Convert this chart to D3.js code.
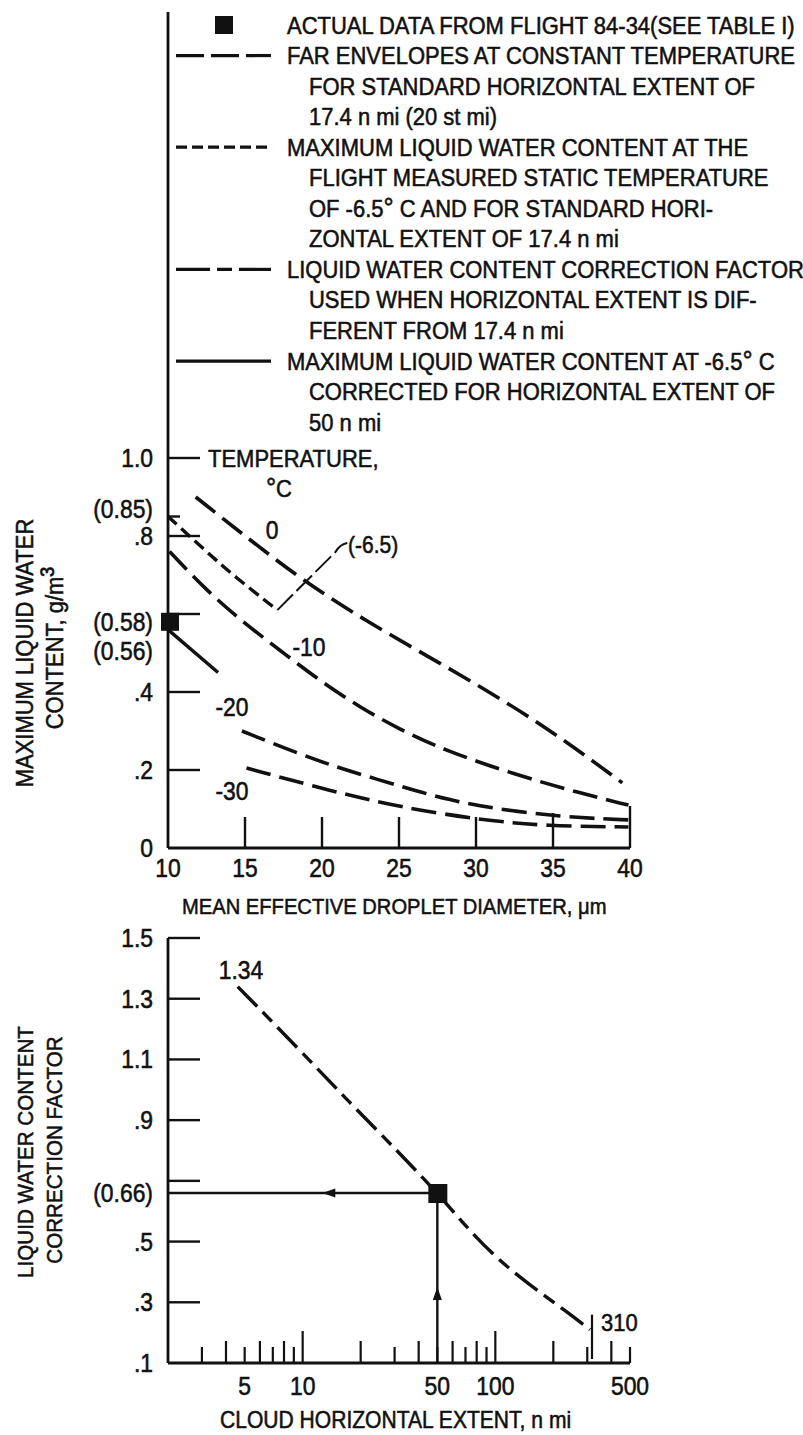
<!DOCTYPE html>
<html><head><meta charset="utf-8">
<script src="https://cdn.jsdelivr.net/npm/d3@7"></script>
<style>
html,body{margin:0;padding:0;background:#fff;}
svg{display:block;}
text{font-family:"Liberation Sans",Arial,sans-serif;fill:#111;stroke:#111;stroke-width:0.55px;}
</style></head><body>
<svg id="chart" width="803" height="1435"></svg>
<script>
// ---------------- DATA ----------------
// Upper chart: maximum liquid water content vs mean effective droplet diameter
const diameterTicks = [15, 20, 25, 30, 35, 40];
const diameterLabels = [10, 15, 20, 25, 30, 35, 40];
const lwcTicks = [0.2, 0.4, 0.6, 0.8, 0.85, 1.0];
const lwcLabelValues = [0, 0.2, 0.4, 0.8, 0.85, 1.0, 0.58, 0.56];
const lwcLabelTexts = ["0", ".2", ".4", ".8", "(0.85)", "1.0", "(0.58)", "(0.56)"];
const envelopeTemps = ["0", "-10", "-20", "-30"];
const envelope0 = [[11.8, 0.90], [15, 0.80], [18.6, 0.69], [22.9, 0.58], [29.2, 0.44], [34.6, 0.31], [39.5, 0.167]];
const envelopeM10 = [[10.1, 0.76], [12.5, 0.66], [15, 0.575], [17.5, 0.50], [20, 0.425], [22.5, 0.36], [25, 0.305], [28, 0.25], [32.4, 0.19], [36.8, 0.14], [39.9, 0.11]];
const envelopeM20 = [[14.8, 0.30], [18.6, 0.24], [21.5, 0.20], [25, 0.16], [28.1, 0.123], [32.4, 0.093], [36.8, 0.077], [39.9, 0.072]];
const envelopeM30 = [[15.1, 0.205], [20.7, 0.145], [25, 0.105], [30.3, 0.072], [34.6, 0.056], [39.9, 0.054]];
const measuredMinus6p5 = [[10, 0.85], [12.5, 0.76], [14.2, 0.70], [17.1, 0.61]];
const corrected50nmi = [[10, 0.56], [13.25, 0.45]];
const flightPoint = [10, 0.58];

// Lower chart: correction factor vs cloud horizontal extent
const extentTicks = [3, 4, 5, 6, 7, 8, 9, 10, 20, 30, 40, 50, 60, 70, 80, 90, 100, 200, 300, 400, 500];
const extentLabels = [5, 10, 50, 100, 500];
const factorTicks = [0.3, 0.5, 0.7, 0.9, 1.1, 1.3, 1.5];
const factorLabelValues = [0.1, 0.3, 0.5, 0.66, 0.9, 1.1, 1.3, 1.5];
const factorLabelTexts = [".1", ".3", ".5", "(0.66)", ".9", "1.1", "1.3", "1.5"];
const factorCurve = [[4.6, 1.34], [9.7, 1.13], [17.4, 0.96], [32, 0.79], [50, 0.66], [68, 0.56], [101, 0.445], [156, 0.35], [234, 0.27], [310, 0.21]];
const correctionPoint = [50, 0.66];
const curveEndLabels = ["1.34", "310"];

// Legend
const legendSymbols = ["square", "envelope", "measured", "factor", "corrected"];
const legendTexts = [
  ["ACTUAL DATA FROM FLIGHT 84-34(SEE TABLE I)"],
  ["FAR ENVELOPES AT CONSTANT TEMPERATURE", "FOR STANDARD HORIZONTAL EXTENT OF", "17.4 n mi (20 st mi)"],
  ["MAXIMUM LIQUID WATER CONTENT AT THE", "FLIGHT MEASURED STATIC TEMPERATURE", "OF -6.5° C AND FOR STANDARD HORI-", "ZONTAL EXTENT OF 17.4 n mi"],
  ["LIQUID WATER CONTENT CORRECTION FACTOR", "USED WHEN HORIZONTAL EXTENT IS DIF-", "FERENT FROM 17.4 n mi"],
  ["MAXIMUM LIQUID WATER CONTENT AT -6.5° C", "CORRECTED FOR HORIZONTAL EXTENT OF", "50 n mi"]
];

// ---------------- STYLE ----------------
const INK = "#111";
const FS = 24;
const DASH = {envelope: "25,9", measured: "12,6", factor: "28,8,13,8"};

const svg = d3.select("#chart");
const probe = svg.append("text").attr("font-size", FS).text(legendTexts[0][0]);
const K = Math.max(0.7, Math.min(1.1, 508 / probe.node().getComputedTextLength()));
probe.remove();

function label(sel, x, y, s, o = {}) {
  const size = o.size || FS;
  const t = sel.append("text")
    .attr("transform", `translate(${x},${y})${o.rotate ? ` rotate(${o.rotate})` : ""} scale(${K},1)`)
    .attr("font-size", size)
    .attr("text-anchor", o.anchor || "start");
  s.split(/(°|³)/).forEach(p => {
    if (!p) return;
    if (p === "°") t.append("tspan").attr("font-size", size * 1.15).text("°");
    else if (p === "³") t.append("tspan").attr("font-size", size * 1.35).text("³");
    else t.append("tspan").text(p);
  });
  return t;
}

// ---------------- SCALES ----------------
const xTop = d3.scaleLinear().domain([10, 40]).range([168, 630]);
const yTop = d3.scaleLinear().domain([0, 1]).range([848, 458]);
const xBot = d3.scaleLog().domain([2, 500]).range([168, 630]);
const yBot = d3.scaleLinear().domain([0.1, 1.5]).range([1363, 938]);

const gTop = svg.append("g");
const gBot = svg.append("g");

// ---------------- UPPER CHART ----------------
gTop.append("line").attr("x1", 168).attr("x2", 168).attr("y1", 12).attr("y2", yTop(0))
  .attr("stroke", INK).attr("stroke-width", 2.8);
gTop.append("line").attr("x1", xTop(10)).attr("x2", xTop(40)).attr("y1", yTop(0)).attr("y2", yTop(0))
  .attr("stroke", INK).attr("stroke-width", 2.8);
gTop.selectAll(".yt").data(lwcTicks).join("line")
  .attr("x1", 168).attr("x2", d => d === 0.85 ? 180 : 200)
  .attr("y1", d => yTop(d)).attr("y2", d => yTop(d))
  .attr("stroke", INK).attr("stroke-width", 2.4);
gTop.selectAll(".xt").data(diameterTicks).join("line")
  .attr("x1", d => xTop(d)).attr("x2", d => xTop(d))
  .attr("y1", yTop(0)).attr("y2", d => yTop(0) - (d === 40 ? 42 : d === 35 ? 35 : 31))
  .attr("stroke", INK).attr("stroke-width", 2.4);
const lwcNudge = {"(0.85)": -8, "(0.56)": 21};
lwcLabelValues.forEach((v, i) => {
  const t = lwcLabelTexts[i];
  label(gTop, 153, yTop(v) + 9 + (lwcNudge[t] || 0), t, {anchor: "end", size: 25});
});
diameterLabels.forEach(v => label(gTop, xTop(v), 877, String(v), {anchor: "middle", size: 25}));
label(gTop, 182, 914, "MEAN EFFECTIVE DROPLET DIAMETER, μm", {size: 22});
label(gTop, 33, 653, "MAXIMUM LIQUID WATER", {rotate: -90, anchor: "middle"});
label(gTop, 63, 648, "CONTENT, g/m³", {rotate: -90, anchor: "middle"});

const lineTop = d3.line().x(d => xTop(d[0])).y(d => yTop(d[1])).curve(d3.curveBasis);
[envelope0, envelopeM10, envelopeM20, envelopeM30].forEach(c => {
  gTop.append("path").attr("d", lineTop(c)).attr("fill", "none").attr("stroke", INK)
    .attr("stroke-width", 3.6).attr("stroke-dasharray", DASH.envelope);
});
gTop.append("path").attr("d", lineTop(measuredMinus6p5)).attr("fill", "none").attr("stroke", INK)
  .attr("stroke-width", 3.4).attr("stroke-dasharray", DASH.measured);
gTop.append("path").attr("d", lineTop(corrected50nmi)).attr("fill", "none").attr("stroke", INK)
  .attr("stroke-width", 3.4);
gTop.append("rect").attr("x", xTop(flightPoint[0]) - 7).attr("y", yTop(flightPoint[1]) - 9)
  .attr("width", 18).attr("height", 18).attr("fill", INK);

label(gTop, 208, 467, "TEMPERATURE,");
label(gTop, 266, 497, "°C");
const tempLabelPos = [[272, 539], [309, 656], [232, 716], [232, 800]];
envelopeTemps.forEach((t, i) => label(gTop, tempLabelPos[i][0], tempLabelPos[i][1], t, {anchor: "middle", size: 25}));
const lastM = measuredMinus6p5[measuredMinus6p5.length - 1];
const lx = xTop(lastM[0]), ly = yTop(lastM[1]);
gTop.append("path").attr("d", `M${lx},${ly} L${lx + 58},${ly - 58} Q${lx + 63},${ly - 66} ${lx + 70},${ly - 67}`)
  .attr("fill", "none").attr("stroke", INK).attr("stroke-width", 2).attr("stroke-dasharray", "22,5");
label(gTop, 348, 553, "(-6.5)", {size: 23});

// ---------------- LEGEND ----------------
const rowStep = 30.55;
let row = 0;
legendTexts.forEach((lines, i) => {
  const cy = 25 + row * rowStep;
  const sym = legendSymbols[i];
  if (sym === "square") {
    gTop.append("rect").attr("x", 215).attr("y", cy - 9).attr("width", 18).attr("height", 18).attr("fill", INK);
  } else {
    gTop.append("line").attr("x1", 176).attr("x2", 271).attr("y1", cy).attr("y2", cy)
      .attr("stroke", INK).attr("stroke-width", 3.2)
      .attr("stroke-dasharray", sym === "envelope" ? "28,7" : sym === "measured" ? "11,5" : sym === "factor" ? "34,7,15,7" : null);
  }
  lines.forEach((s, j) => {
    const y = 25 + (row + j) * rowStep + 8.5;
    label(gTop, j === 0 ? 287 : 309, y, s);
  });
  row += lines.length;
});

// ---------------- LOWER CHART ----------------
gBot.append("line").attr("x1", 168).attr("x2", 168).attr("y1", yBot(1.5)).attr("y2", yBot(0.1))
  .attr("stroke", INK).attr("stroke-width", 2.8);
gBot.append("line").attr("x1", xBot(2)).attr("x2", xBot(500)).attr("y1", yBot(0.1)).attr("y2", yBot(0.1))
  .attr("stroke", INK).attr("stroke-width", 2.8);
gBot.selectAll(".yt").data(factorTicks).join("line")
  .attr("x1", 168).attr("x2", 200).attr("y1", d => yBot(d)).attr("y2", d => yBot(d))
  .attr("stroke", INK).attr("stroke-width", 2.4);
function tickLen(v) {
  const m = Math.round(v / Math.pow(10, Math.floor(Math.log10(v) + 1e-9)));
  return m === 1 ? 32 : (m % 2 === 0 ? 22 : 16);
}
gBot.selectAll(".xt").data(extentTicks).join("line")
  .attr("x1", d => xBot(d)).attr("x2", d => xBot(d))
  .attr("y1", yBot(0.1)).attr("y2", d => yBot(0.1) - tickLen(d))
  .attr("stroke", INK).attr("stroke-width", 2.2);
factorLabelValues.forEach((v, i) => label(gBot, 153, yBot(v) + 9, factorLabelTexts[i], {anchor: "end", size: 25}));
extentLabels.forEach(v => label(gBot, xBot(v), 1395, String(v), {anchor: "middle", size: 25}));
label(gBot, 220, 1428, "CLOUD HORIZONTAL EXTENT, n mi", {size: 23});
label(gBot, 33, 1152, "LIQUID WATER CONTENT", {rotate: -90, anchor: "middle", size: 22.5});
label(gBot, 62, 1150, "CORRECTION FACTOR", {rotate: -90, anchor: "middle", size: 22.5});

const lineBot = d3.line().x(d => xBot(d[0])).y(d => yBot(d[1])).curve(d3.curveBasis);
gBot.append("path").attr("d", lineBot(factorCurve)).attr("fill", "none").attr("stroke", INK)
  .attr("stroke-width", 3.4).attr("stroke-dasharray", DASH.factor);

const px = xBot(correctionPoint[0]), py = yBot(correctionPoint[1]);
gBot.append("line").attr("x1", 168).attr("x2", px).attr("y1", py).attr("y2", py)
  .attr("stroke", INK).attr("stroke-width", 2.4);
gBot.append("line").attr("x1", px).attr("x2", px).attr("y1", yBot(0.1)).attr("y2", py)
  .attr("stroke", INK).attr("stroke-width", 2.4);
gBot.append("path").attr("d", `M${px - 115},${py} L${px - 102},${py - 4.5} L${px - 102},${py + 4.5} Z`).attr("fill", INK);
gBot.append("path").attr("d", `M${px},${py + 94} L${px - 4.5},${py + 107} L${px + 4.5},${py + 107} Z`).attr("fill", INK);
gBot.append("rect").attr("x", px - 9).attr("y", py - 9).attr("width", 19).attr("height", 19).attr("fill", INK);

const endPt = factorCurve[factorCurve.length - 1];
gBot.append("line").attr("x1", xBot(endPt[0]) + 2).attr("x2", xBot(endPt[0]) + 2)
  .attr("y1", yBot(endPt[1]) - 15).attr("y2", yBot(0.1) - 4)
  .attr("stroke", INK).attr("stroke-width", 2.2);
label(gBot, xBot(endPt[0]) + 11, yBot(endPt[1]) + 1, curveEndLabels[1], {size: 24});
const startPt = factorCurve[0];
label(gBot, xBot(startPt[0]) - 19, yBot(startPt[1]) - 8, curveEndLabels[0], {size: 25});
</script>
</body></html>
